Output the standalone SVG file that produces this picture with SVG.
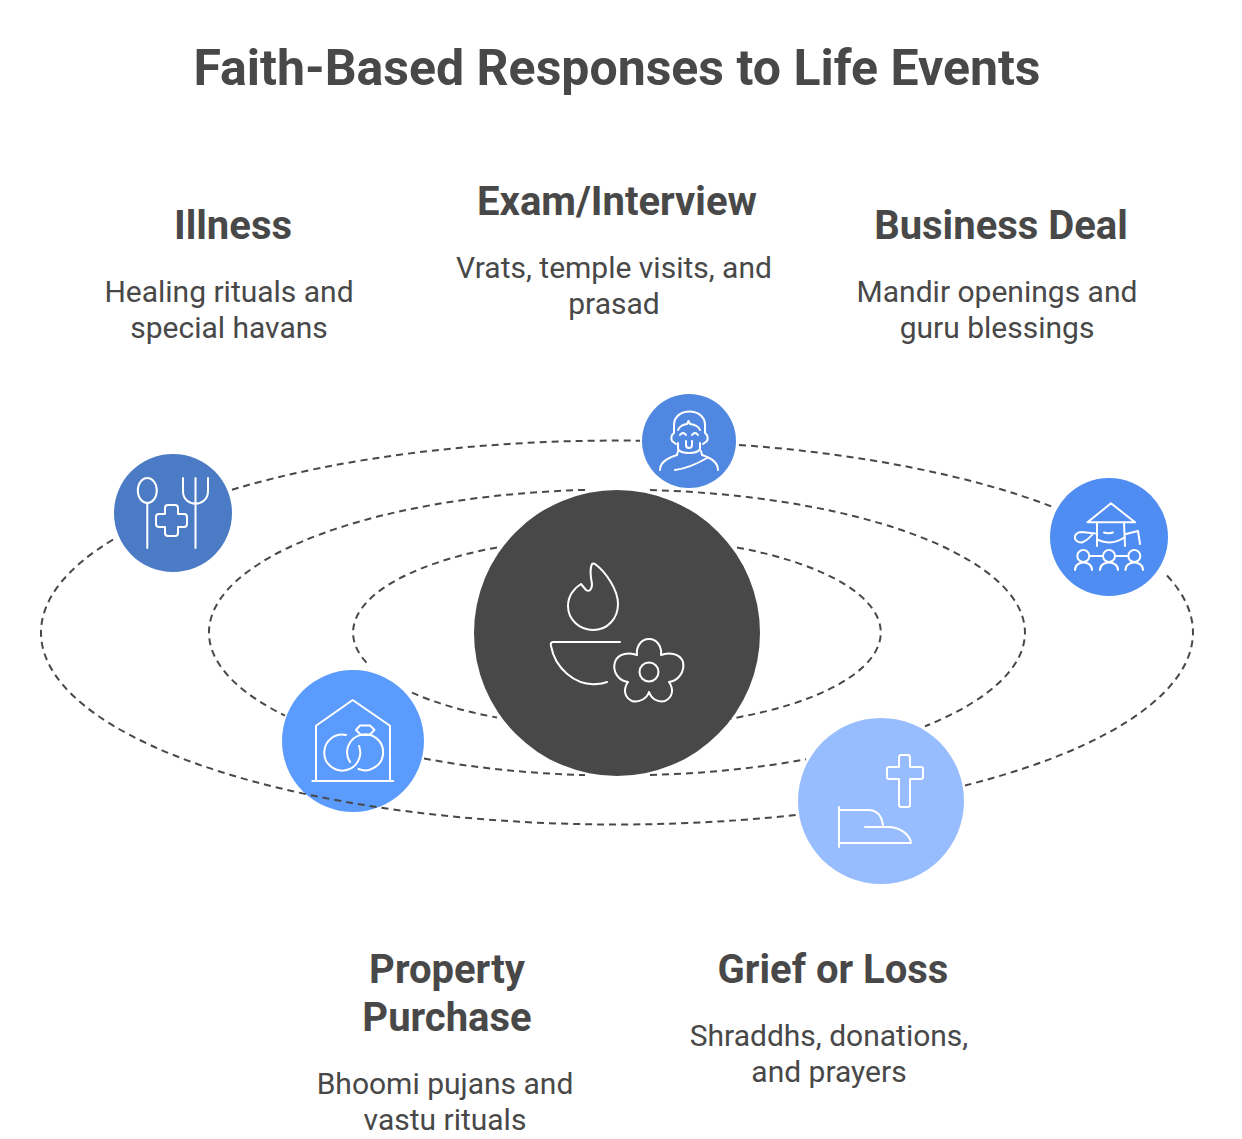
<svg xmlns="http://www.w3.org/2000/svg" width="1242" height="1139" viewBox="0 0 1242 1139">
<style>
text{font-family:Roboto,"Liberation Sans",sans-serif;fill:#484848;text-anchor:middle}
.t{font-size:50px;font-weight:700}
.h{font-size:40px;font-weight:700}
.d{font-size:30px;font-weight:400}
.c{fill:none;stroke:#484848;stroke-width:2;stroke-dasharray:7 5}
.i{fill:none;stroke:#fff;stroke-width:2;stroke-linecap:round;stroke-linejoin:round}
</style>
<rect width="1242" height="1139" fill="#fff"/>
<text class="t" x="617" y="85">Faith-Based Responses to Life Events</text>
<g id="center">
<circle cx="617" cy="633" r="143" fill="#484848"/>
<path class="i" d="M592 564C589 570 591 578 592 584C592 590 589 592 586 590L581 584C574 588 568 596 568 606C568 620 580 630 593 630C608 630 618 618 618 604C618 590 606 572 595 564Q593 563 592 564Z"/>
<path class="i" d="M620 642H553Q550 642 551 646C555 668 575 686 597 684Q602 684 607 682"/>
<path class="i" d="M649 639C658 639 662 648 661 655C668 652 680 653 683 662C685 672 678 681 669 682C674 689 673 697 665 701C657 703 651 698 649 692C647 698 640 703 632 701C624 697 623 689 628 682C619 681 612 672 615 662C618 653 630 652 637 655C636 648 640 639 649 639Z"/>
<circle class="i" cx="649" cy="672" r="9.5"/>
</g>
<g id="illness">
<circle cx="173" cy="513" r="59" fill="#4a7bc4"/>
<ellipse class="i" cx="147.300" cy="490.500" rx="9.500" ry="12.500"/>
<path class="i" d="M147.300 503V548M183 478V491C183 508 208 508 208 491V478M195.500 478V548"/>
<path class="i" d="M168 505H175Q178 505 178 508V514H184Q187 514 187 517V524Q187 527 184 527H178V533Q178 536 175 536H168Q165 536 165 533V527H159Q156 527 156 524V517Q156 514 159 514H165V508Q165 505 168 505Z"/>
</g>
<g id="exam">
<circle cx="689" cy="441" r="47" fill="#5087e1"/>
<path class="i" d="M674 433V425C674 407 705 407 705 425V433M674 433Q670 436 672 441L676 444M705 433Q709 436 707 441L703 444M678 430Q680 425 687 424L688.500 421L690 424Q698 425 700 430M680 435Q683 431 686 435M692 435Q695 431 698 435M686 441V445Q686 448 689 448Q692 448 692 445V441M678 443V449Q680 453 689 453Q698 453 700 449V443M660 470Q660 460 677 455L678 451M718 470Q718 460 702 455L701 451M675 470Q690 468 707 458"/>
</g>
<g id="business">
<circle cx="1109" cy="537" r="59" fill="#4f8df2"/>
<path class="i" d="M1087.500 522.300L1111 503.300L1135 522.300ZM1097 522V546M1124 522L1125 546M1098 540Q1112 546 1125 537M1104 532.500Q1108 534 1113 532.500M1126 534L1138 531L1140 544M1095 533.500L1082 532C1072 532 1073 543 1082 542.500Q1088 540 1092 535"/>
<circle class="i" cx="1083.300" cy="556" r="6"/><circle class="i" cx="1109" cy="556" r="6"/><circle class="i" cx="1134.300" cy="556" r="6"/>
<path class="i" d="M1075 570C1075 560 1092 560 1092 570M1100 570C1100 560 1118 560 1118 570M1125.500 570C1125.500 560 1143 560 1143 570M1089.300 556H1103M1115 556H1128.300"/>
</g>
<g id="property">
<circle cx="353" cy="741" r="71" fill="#5b9bfd"/>
<path class="i" d="M316 781V725.700L352.700 700L390 725.700V781M312.300 781H393.300"/>
<path class="i" d="M346 735A18 18 0 1 0 359 746"/>
<path class="i" d="M358.500 769A18 18 0 1 0 350 762"/>
<path class="i" d="M356 730L360 725.500H370L374.500 730L369.500 735H361Z"/>
</g>
<g id="grief">
<circle cx="881" cy="801" r="83" fill="#97bdfe"/>
<path class="i" d="M901 755H908Q910 755 910 758V767H921Q923 767 923 769V777Q923 779 921 779H910V805Q910 807 908 807H901Q899 807 899 805V779H889Q887 779 887 777V769Q887 767 889 767H899V758Q899 755 901 755Z"/>
<path class="i" d="M839 807V847M839 810H868C878 810 882 816 883 826M865 827H888C902 827 910 836 911 843H839"/>
</g>
<g id="connectors">
<path class="c" d="M232 489.700A576 192 0 0 1 640 440.700"/>
<path class="c" d="M739 444.900A576 192 0 0 1 1052 506.600"/>
<path class="c" d="M1167 575.500A576 192 0 0 1 965 785.500"/>
<path class="c" d="M113 539.600A576 192 0 0 0 41 632.500A576 192 0 0 0 797 814.900"/>
<path class="c" d="M650 490A408 143 0 0 1 925 726.300"/>
<path class="c" d="M585 489.900A408 143 0 0 0 285 715.600"/>
<path class="c" d="M424 758.500A408 143 0 0 0 585 775.100"/>
<path class="c" d="M650 775A408 143 0 0 0 806 759.300"/>
<path class="c" d="M497 547.500A264 95.500 0 0 0 370 666.200"/>
<path class="c" d="M412 692.700A264 95.500 0 0 0 497 717.500"/>
<path class="c" d="M737 547.500A264 95.500 0 0 1 730 718.800"/>
</g>
<g id="label-illness">
<text class="h" x="233" y="239">Illness</text>
<text class="d" x="229" y="302">Healing rituals and</text>
<text class="d" x="229" y="338">special havans</text>
</g>
<g id="label-exam">
<text class="h" x="617" y="215">Exam/Interview</text>
<text class="d" x="614" y="278">Vrats, temple visits, and</text>
<text class="d" x="614" y="314">prasad</text>
</g>
<g id="label-business">
<text class="h" x="1001" y="239">Business Deal</text>
<text class="d" x="997" y="302">Mandir openings and</text>
<text class="d" x="997" y="338">guru blessings</text>
</g>
<g id="label-property">
<text class="h" x="447" y="983">Property</text>
<text class="h" x="447" y="1031">Purchase</text>
<text class="d" x="445" y="1094">Bhoomi pujans and</text>
<text class="d" x="445" y="1130">vastu rituals</text>
</g>
<g id="label-grief">
<text class="h" x="833" y="983">Grief or Loss</text>
<text class="d" x="829" y="1046">Shraddhs, donations,</text>
<text class="d" x="829" y="1082">and prayers</text>
</g>
</svg>
